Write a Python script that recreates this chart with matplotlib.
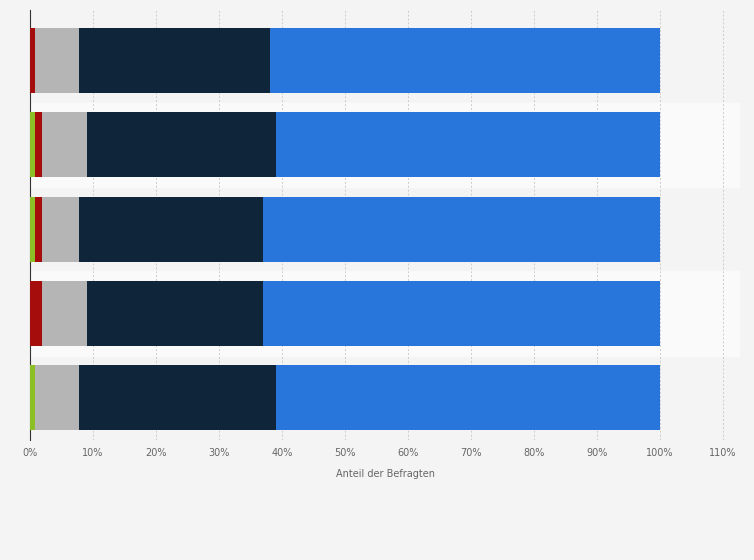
import matplotlib.pyplot as plt
import numpy as np

rows = ["1", "2", "3", "4", "5"]
green = [0.0, 0.8, 0.8, 0.0, 0.8]
red = [0.8, 1.1, 1.1, 1.9, 0.0]
gray = [7.0, 7.1, 5.9, 7.1, 7.0]
navy = [30.3, 30.0, 29.2, 28.0, 31.2]
blue = [61.9, 61.0, 63.0, 63.0, 61.0]
ticks = list(range(0, 111, 10))

series = [(green, "#8cbf26"), (red, "#a50d0d"), (gray, "#b5b5b5"),
          (navy, "#0f2539"), (blue, "#2875db")]

fig = plt.figure(figsize=(7.54, 5.6), dpi=100, facecolor="#f4f4f4")
ax = fig.add_axes([30 / 754, 120 / 560, 710 / 754, 430 / 560])
ax.set_facecolor("#f4f4f4")
y = np.arange(len(rows))[::-1]
for i in range(len(rows)):
    if i % 2 == 1:
        ax.axhspan(y[i] - 0.5, y[i] + 0.5, color="#fafafa", zorder=0)
left = np.zeros(len(rows))
for vals, c in series:
    ax.barh(y, vals, left=left, height=0.77, color=c, zorder=3)
    left += np.array(vals)

ax.set_xlim(0, 112.7)
ax.set_ylim(-0.5, 4.6)
ax.set_xticks(ticks)
ax.set_xticklabels([f"{t}%" for t in ticks], fontsize=7, color="#666666")
ax.set_yticks([])
ax.grid(axis="x", color="#cccccc", linestyle=(0, (2, 2)), linewidth=0.7, zorder=1)
for s in ["top", "right", "bottom"]:
    ax.spines[s].set_visible(False)
ax.spines["left"].set_color("#333333")
ax.tick_params(axis="x", length=0, pad=6)
ax.set_xlabel("Anteil der Befragten", fontsize=7, color="#666666", labelpad=8)
fig.savefig("out.png", dpi=100, facecolor=fig.get_facecolor())
